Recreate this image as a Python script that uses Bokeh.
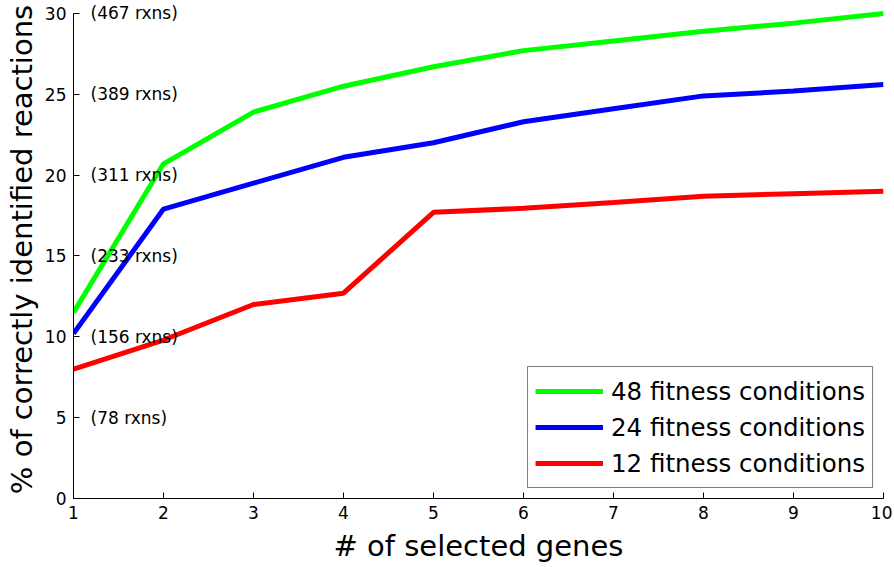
from bokeh.plotting import figure
from bokeh.models import Range1d, FixedTicker, Legend, LegendItem, Label
from bokeh.embed import file_html
from bokeh.resources import INLINE

genes = [1, 2, 3, 4, 5, 6, 7, 8, 9, 10]
fit48 = [11.5, 20.7, 23.9, 25.5, 26.7, 27.7, 28.3, 28.9, 29.4, 30.0]
fit24 = [10.2, 17.9, 19.5, 21.1, 22.0, 23.3, 24.1, 24.9, 25.2, 25.6]
fit12 = [8.0, 9.8, 12.0, 12.7, 17.7, 17.95, 18.3, 18.7, 18.85, 19.0]
series_labels = ["48 fitness conditions", "24 fitness conditions", "12 fitness conditions"]
series_colors = ["#00ff00", "#0000ff", "#ff0000"]
y_ticks = [0, 5, 10, 15, 20, 25, 30]
rxn_ticks = [5, 10, 15, 20, 25, 30]
rxn_labels = ["(78 rxns)", "(156 rxns)", "(233 rxns)", "(311 rxns)", "(389 rxns)", "(467 rxns)"]

FONT = "DejaVu Sans"

# y axis spans 0..30; the frame extends a little higher so top labels are not clipped
p = figure(width=892, height=565, output_backend="svg", toolbar_location=None,
           x_range=Range1d(1, 10), y_range=Range1d(0, 30.8),
           min_border_left=73, min_border_right=9, min_border_top=0, min_border_bottom=67)
p.outline_line_color = None
p.xgrid.visible = False
p.ygrid.visible = False
p.background_fill_color = "white"
p.border_fill_color = "white"

for ax in (p.xaxis[0], p.yaxis[0]):
    ax.major_tick_in = 6
    ax.major_tick_out = 0
    ax.minor_tick_in = 0
    ax.minor_tick_out = 0
    ax.axis_line_color = "black"
    ax.major_tick_line_color = "black"
    ax.major_label_text_font = FONT
    ax.major_label_text_font_size = "17px"
    ax.major_label_text_color = "black"
    ax.axis_label_text_font = FONT
    ax.axis_label_text_font_size = "29px"
    ax.axis_label_text_font_style = "normal"
    ax.axis_label_text_color = "black"

p.xaxis[0].ticker = FixedTicker(ticks=genes)
p.yaxis[0].ticker = FixedTicker(ticks=y_ticks)
p.yaxis[0].bounds = (y_ticks[0], y_ticks[-1])
p.xaxis[0].axis_label = "# of selected genes"
p.yaxis[0].axis_label = "% of correctly identified reactions"
p.xaxis[0].major_label_standoff = 7
p.yaxis[0].major_label_standoff = 7
p.xaxis[0].axis_label_standoff = 7
p.yaxis[0].axis_label_standoff = 3

items = []
for ys, lab, col in zip([fit48, fit24, fit12], series_labels, series_colors):
    r = p.line(genes, ys, line_color=col, line_width=5)
    items.append(LegendItem(label=lab, renderers=[r]))

for yv, txt in zip(rxn_ticks, rxn_labels):
    p.add_layout(Label(x=genes[0], y=yv, text=txt, x_offset=17, text_align="left",
                       text_baseline="middle", text_font=FONT, text_font_size="17px",
                       text_color="black", level="overlay"))

legend = Legend(items=items, location="bottom_right", margin=10, padding=7,
                spacing=2, glyph_width=68, glyph_height=34, label_height=34,
                label_standoff=8, label_text_font=FONT, label_text_font_size="24.5px",
                label_text_color="black", border_line_color="black",
                border_line_width=1, background_fill_alpha=1.0)
p.add_layout(legend)

open("out.html", "w").write(file_html(p, INLINE))
